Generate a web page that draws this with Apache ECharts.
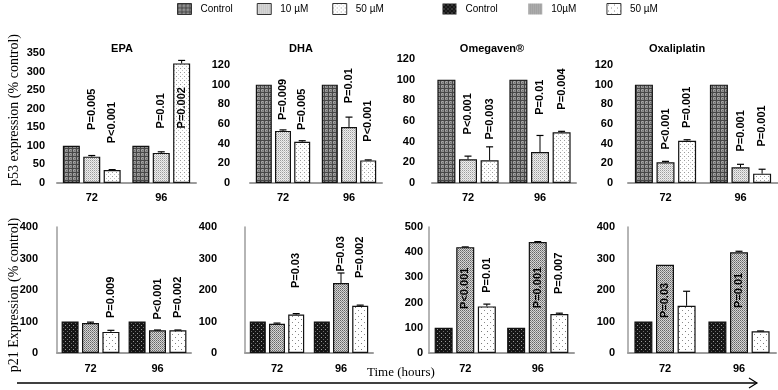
<!DOCTYPE html>
<html>
<head>
<meta charset="utf-8">
<script src="https://cdn.jsdelivr.net/npm/echarts@6.0.0/dist/echarts.min.js"></script>
<style>
  html, body { margin: 0; padding: 0; background: #fff; }
  #chart { width: 778px; height: 390px; }
</style>
</head>
<body>
<div id="chart"></div>
<script>
// categories
var drugs = ['EPA', 'DHA', 'Omegaven®', 'Oxaliplatin'];
var times = ['72', '96'];
var p53Names = ['Control', '10 µM', '50 µM'];
var p21Names = ['Control', '10µM', '50 µM'];

// values are [drug][time][dose]  (dose: control, 10, 50)
var p53Mean = [
  [[100, 71, 35], [100, 81, 322]],
  [[100, 53, 42], [100, 57, 23]],
  [[100, 23, 22], [100, 30, 49]],
  [[100, 21, 43], [100, 16, 9.5]]
];
var p53Err = [
  [[0, 3, 1], [0, 3, 8]],
  [[0, 1, 1], [0, 10, 0.5]],
  [[0, 3, 13], [0, 16, 1]],
  [[0, 1, 1], [0, 3, 4.5]]
];
var p53PText = [
  [['', 'P=0.005', 'P<0.001'], ['', 'P=0.01', 'P=0.002']],
  [['', 'P=0.009', 'P=0.005'], ['', 'P=0.01', 'P<0.001']],
  [['', 'P<0.001', 'P=0.003'], ['', 'P=0.01', 'P=0.004']],
  [['', 'P<0.001', 'P=0.001'], ['', 'P=0.001', 'P=0.001']]
];
// value at which each p-value text starts
var p53PAt = [
  [[0, 143, 107], [0, 147, 147]],
  [[0, 64, 54], [0, 81, 42]],
  [[0, 47, 42], [0, 66, 71]],
  [[0, 34, 56], [0, 32, 37]]
];

var p21Mean = [
  [[100, 95, 67], [100, 72, 72]],
  [[100, 93, 122], [100, 222, 150]],
  [[100, 420, 185], [100, 440, 155]],
  [[100, 280, 150], [100, 320, 69]]
];
var p21Err = [
  [[0, 3, 5], [0, 1, 1]],
  [[0, 2, 3], [0, 32, 2]],
  [[0, 1, 9], [0, 2, 3]],
  [[0, 0, 46], [0, 3, 1]]
];
var p21PText = [
  [['', '', 'P=0.009'], ['', 'P<0.001', 'P=0.002']],
  [['', '', 'P=0.03'], ['', 'P=0.03', 'P=0.002']],
  [['', 'P<0.001', 'P=0.01'], ['', 'P=0.001', 'P=0.007']],
  [['', 'P=0.03', ''], ['', 'P=0.01', '']]
];
var p21PAt = [
  [[0, 0, 111], [0, 106, 111]],
  [[0, 0, 206], [0, 259, 238]],
  [[0, 175, 239], [0, 178, 234]],
  [[0, 111, 0], [0, 143, 0]]
];

var p53Max = [350, 120, 120, 120];
var p53Step = [50, 20, 20, 20];
var p21Max = [400, 400, 500, 400];
var p21Step = [100, 100, 100, 100];

// little fill patterns like the excel ones
function pattern(size, bg, dots) {
  var c = document.createElement('canvas');
  c.width = size; c.height = size;
  var g = c.getContext('2d');
  g.fillStyle = bg;
  g.fillRect(0, 0, size, size);
  dots.forEach(function (d) {
    g.fillStyle = d[2];
    g.fillRect(d[0], d[1], d[3] || 1, d[4] || 1);
  });
  return { image: c, repeat: 'repeat' };
}

var fills = [
  [
    pattern(4, '#8e8e8e', [[0, 0, '#474747', 4, 1], [0, 0, '#474747', 1, 4], [2, 2, '#6c6c6c'], [1, 2, '#a8a8a8'], [2, 1, '#a8a8a8']]),
    pattern(2, '#eeeeee', [[0, 0, '#9c9c9c'], [1, 1, '#c8c8c8']]),
    pattern(4, '#ffffff', [[0, 0, '#9a9a9a'], [2, 2, '#c4c4c4']])
  ],
  [
    pattern(4, '#161616', [[1, 1, '#9a9a9a'], [3, 3, '#6a6a6a']]),
    pattern(2, '#d6d6d6', [[0, 0, '#666666'], [1, 1, '#8a8a8a']]),
    pattern(6, '#ffffff', [[1, 1, '#7a7a7a'], [4, 4, '#8a8a8a']])
  ]
];

var barWidths = [17, 16, 18, 18];
var rows = [
  {
    mean: p53Mean, err: p53Err, ptext: p53PText, pat: p53PAt, max: p53Max, step: p53Step, names: p53Names,
    grids: [[57, 139, 53], [250, 132, 65], [432, 144, 59], [628, 150, 65]],
    bottom: 207, ymargin: [12, 20, 17, 15], xmargin: 9, showYLine: false
  },
  {
    mean: p21Mean, err: p21Err, ptext: p21PText, pat: p21PAt, max: p21Max, step: p21Step, names: p21Names,
    grids: [[57, 134, 227], [245, 128, 227], [429, 145, 227], [628, 148, 227]],
    bottom: 37, ymargin: [19, 28, 6, 13], xmargin: 10, showYLine: true
  }
];

var labelFont = { fontFamily: 'Liberation Sans', fontWeight: 'bold', fontSize: 11, color: '#000' };

var grid = [], xAxis = [], yAxis = [], series = [];

rows.forEach(function (row, r) {
  drugs.forEach(function (drug, d) {
    var gi = r * 4 + d;
    var g = row.grids[d];
    var bw = barWidths[d];
    var stepPx = bw * 1.2;
    grid.push({ left: g[0], width: g[1], top: g[2], bottom: row.bottom });
    xAxis.push({
      gridIndex: gi, type: 'category', data: times,
      axisLine: { lineStyle: { color: '#9c9c9c', width: 2 } },
      axisTick: { show: false },
      axisLabel: Object.assign({ margin: row.xmargin }, labelFont)
    });
    yAxis.push({
      gridIndex: gi, type: 'value', min: 0, max: row.max[d], interval: row.step[d],
      splitLine: { show: false },
      axisTick: { show: false },
      axisLine: { show: row.showYLine, lineStyle: { color: '#9c9c9c', width: 1.5 } },
      axisLabel: Object.assign({ margin: row.ymargin[d] }, labelFont)
    });

    for (var k = 0; k < 3; k++) {
      series.push({
        type: 'bar', name: row.names[k], xAxisIndex: gi, yAxisIndex: gi,
        barWidth: bw, barGap: '20%',
        data: row.mean[d].map(function (t) { return t[k]; }),
        itemStyle: { color: fills[r][k], borderColor: '#111', borderWidth: 1.2 },
        silent: true
      });
    }

    // error bars
    var errData = [];
    for (var t = 0; t < 2; t++) {
      for (var k2 = 0; k2 < 3; k2++) {
        if (row.err[d][t][k2] > 0) errData.push([t, k2, row.mean[d][t][k2], row.err[d][t][k2]]);
      }
    }
    series.push({
      type: 'custom', xAxisIndex: gi, yAxisIndex: gi, silent: true, z: 5,
      encode: { x: 0, y: 2 },
      data: errData,
      renderItem: (function (step) {
        return function (params, api) {
          var p0 = api.coord([api.value(0), api.value(2)]);
          var p1 = api.coord([api.value(0), api.value(2) + api.value(3)]);
          var x = p0[0] + (api.value(1) - 1) * step;
          return {
            type: 'group', children: [
              { type: 'line', shape: { x1: x, y1: p0[1], x2: x, y2: p1[1] }, style: { stroke: '#000', lineWidth: 1 } },
              { type: 'line', shape: { x1: x - 3.5, y1: p1[1], x2: x + 3.5, y2: p1[1] }, style: { stroke: '#000', lineWidth: 1.2 } }
            ]
          };
        };
      })(stepPx)
    });

    // p-values
    var pData = [], pTexts = [];
    for (var t2 = 0; t2 < 2; t2++) {
      for (var k3 = 0; k3 < 3; k3++) {
        if (row.ptext[d][t2][k3]) {
          pData.push([t2, k3, row.pat[d][t2][k3]]);
          pTexts.push(row.ptext[d][t2][k3]);
        }
      }
    }
    series.push({
      type: 'custom', xAxisIndex: gi, yAxisIndex: gi, silent: true, z: 6,
      encode: { x: 0, y: 2 },
      data: pData,
      renderItem: (function (step, texts) {
        return function (params, api) {
          var p = api.coord([api.value(0), api.value(2)]);
          return {
            type: 'text',
            x: p[0] + (api.value(1) - 1) * step,
            y: p[1],
            rotation: Math.PI / 2,
            style: {
              text: texts[params.dataIndex],
              fill: '#000',
              font: 'bold 11px "Liberation Sans"',
              align: 'left', verticalAlign: 'middle',
              textAlign: 'left', textVerticalAlign: 'middle'
            }
          };
        };
      })(stepPx, pTexts)
    });
  });
});

var titleX = [117, 296, 487, 672];
var titleY = [38, 38, 38, 38];

function legendItems(r, names) {
  return names.map(function (n, k) {
    return { name: n, itemStyle: { color: fills[r][k], borderColor: r === 0 || k === 2 ? '#333' : 'transparent', borderWidth: 1 } };
  });
}

var option = {
  animation: false,
  backgroundColor: '#fff',
  title: drugs.map(function (dname, i) {
    return {
      text: dname, left: titleX[i], top: titleY[i], textAlign: 'center',
      textStyle: { fontFamily: 'Liberation Sans', fontWeight: 'bold', fontSize: 11, color: '#000' }
    };
  }),
  legend: [
    {
      left: 177, top: 3, padding: 0, icon: 'rect', itemWidth: 14, itemHeight: 11, itemGap: 24,
      data: legendItems(0, p53Names),
      textStyle: { fontFamily: 'Liberation Sans', fontSize: 10, color: '#000', padding: [0, 0, 0, 4] }
    },
    {
      left: 442, top: 3, padding: 0, icon: 'rect', itemWidth: 14, itemHeight: 11, itemGap: 30,
      data: legendItems(1, p21Names),
      textStyle: { fontFamily: 'Liberation Sans', fontSize: 10, color: '#000', padding: [0, 0, 0, 4] }
    }
  ],
  grid: grid,
  xAxis: xAxis,
  yAxis: yAxis,
  series: series,
  graphic: [
    {
      type: 'text', x: 14, y: 110, rotation: Math.PI / 2,
      style: { text: 'p53 expression (% control)', font: '14px "Liberation Serif"', fill: '#000', align: 'center', verticalAlign: 'middle' }
    },
    {
      type: 'text', x: 14, y: 295, rotation: Math.PI / 2,
      style: { text: 'p21 Expression (% control)', font: '14px "Liberation Serif"', fill: '#000', align: 'center', verticalAlign: 'middle' }
    },
    {
      type: 'text', x: 367, y: 373,
      style: { text: 'Time (hours)', font: '13px "Liberation Serif"', fill: '#000', align: 'left', verticalAlign: 'middle' }
    },
    { type: 'line', shape: { x1: 17, y1: 383, x2: 757, y2: 383 }, style: { stroke: '#000', lineWidth: 1.5 } },
    { type: 'polyline', shape: { points: [[749, 378], [757, 383], [749, 388]] }, style: { stroke: '#000', lineWidth: 1.2, fill: null } }
  ]
};

var chart = echarts.init(document.getElementById('chart'), null, { renderer: 'canvas' });
chart.setOption(option);
</script>
</body>
</html>
